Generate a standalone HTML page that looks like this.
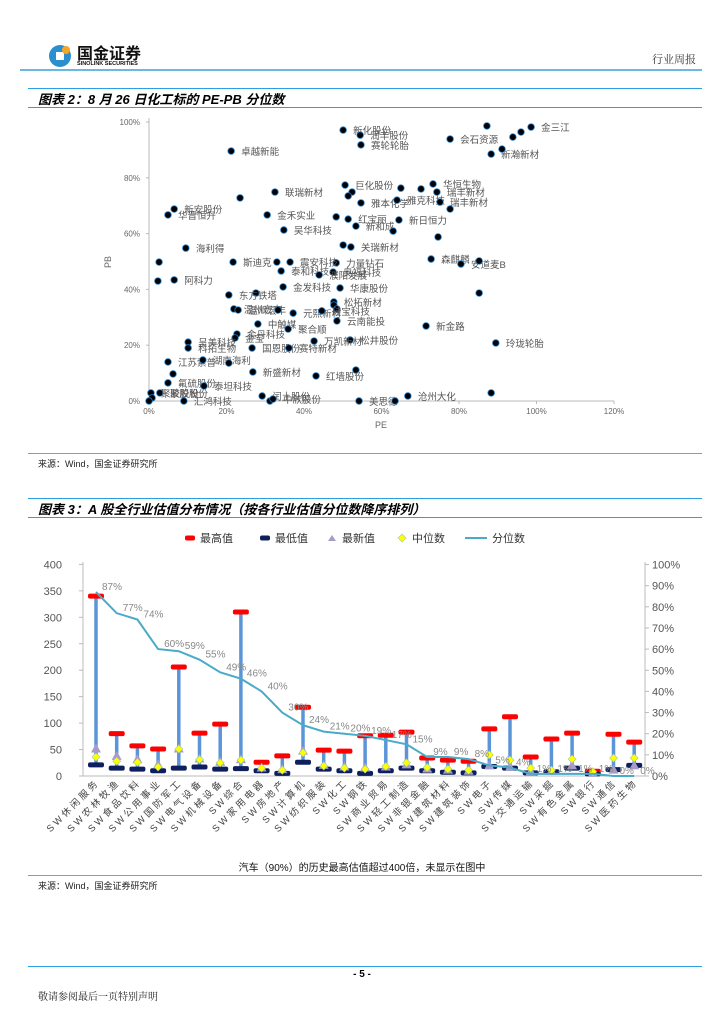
<!DOCTYPE html>
<html><head><meta charset="utf-8">
<style>
body{margin:0;background:#fff;}
#page{position:relative;width:724px;height:1024px;overflow:hidden;font-family:"Liberation Sans","Noto Sans CJK SC",sans-serif;}
.abs{position:absolute;}
.hl{position:absolute;height:1px;background:#2aa0e0;}
.cap{position:absolute;font-size:13px;font-weight:bold;font-style:italic;color:#000;}
.src{position:absolute;font-size:9px;color:#222;}
</style></head><body>
<div id="page">
  <div class="abs" style="left:48px;top:43px;width:26px;height:26px;">
    <svg width="26" height="26"><circle cx="12" cy="13" r="11" fill="#2a8fd0"/><rect x="8" y="9" width="8" height="8" fill="#fff"/><circle cx="18" cy="7" r="4" fill="#f5a623"/></svg>
  </div>
  <div class="abs" style="left:77px;top:40px;font-size:16px;font-weight:bold;color:#111;">国金证券</div>
  <div class="abs" style="left:77px;top:61px;font-size:5.5px;font-weight:bold;color:#111;">SINOLINK SECURITIES</div>
  <div class="abs" style="left:652px;top:51px;font-size:11px;color:#333;font-family:'Noto Serif CJK SC',serif;">行业周报</div>
  <div class="hl" style="left:20px;top:69px;width:682px;height:2px;background:#6ab8e6;"></div>

  <div class="hl" style="left:28px;top:88px;width:674px;"></div>
  <div class="cap" style="left:38px;top:89px;">图表 2：8 月 26 日化工标的 PE-PB 分位数</div>
  <div class="hl" style="left:28px;top:107px;width:674px;"></div>

  <svg id="sc" class="abs" style="left:0;top:0" width="724" height="450"></svg>

  <div class="hl" style="left:28px;top:453px;width:674px;background:#999;"></div>
  <div class="src" style="left:38px;top:457px;">来源：Wind，国金证券研究所</div>

  <div class="hl" style="left:28px;top:498px;width:674px;"></div>
  <div class="cap" style="left:38px;top:499px;">图表 3：A 股全行业估值分布情况（按各行业估值分位数降序排列）</div>
  <div class="hl" style="left:28px;top:517px;width:674px;"></div>

  <svg id="bc" class="abs" style="left:0;top:520px" width="724" height="340"></svg>

  <div class="abs" style="left:0;width:724px;text-align:center;top:859px;font-size:10px;color:#111;">汽车（90%）的历史最高估值超过400倍，未显示在图中</div>
  <div class="hl" style="left:28px;top:875px;width:674px;background:#999;"></div>
  <div class="src" style="left:38px;top:879px;">来源：Wind，国金证券研究所</div>

  <div class="hl" style="left:28px;top:966px;width:674px;background:#2aa0e0;"></div>
  <div class="abs" style="left:0;width:724px;text-align:center;top:969px;font-size:10px;font-weight:bold;">- 5 -</div>
  <div class="abs" style="left:38px;top:988px;font-size:10px;color:#222;font-family:'Noto Serif CJK SC',serif;">敬请参阅最后一页特别声明</div>
</div>
<script>
const NS="http://www.w3.org/2000/svg";
function mk(p,t,a){const e=document.createElementNS(NS,t);for(const k in a)e.setAttribute(k,a[k]);p.appendChild(e);return e;}

// ---- Scatter data ----
const peVals=[50.1,54.5,54.7,21.2,77.7,87.2,93.9,96.0,98.6,88.3,91.1,50.6,65.0,70.2,73.3,74.3,52.4,51.4,54.7,64.0,75.1,77.7,48.3,51.4,53.4,64.5,63.0,74.6,50.1,52.1,72.8,80.5,85.2,48.3,47.5,49.3,85.2,47.7,47.7,48.5,48.5,71.5,51.9,89.5,53.4,88.3,54.2,63.5,66.8,23.5,32.5,6.5,4.9,30.5,34.8,9.5,33.0,2.6,21.7,36.4,34.1,43.9,2.3,6.5,34.6,27.6,20.6,21.9,23.0,33.3,37.2,44.6,28.1,35.9,22.7,22.2,10.1,10.1,26.6,36.1,42.6,4.9,13.9,20.6,26.8,6.2,43.1,4.9,2.8,0.5,14.2,0.8,0,9.0,29.2,31.2,32.0];
const pbVals=[97.1,95.3,91.8,89.6,93.9,98.6,94.6,96.4,98.2,88.5,90.3,77.4,76.3,76.0,77.8,74.9,74.9,73.5,71.0,72.0,71.3,68.8,66.0,65.2,62.7,64.9,60.9,58.8,55.9,55.2,50.9,49.1,50.2,49.5,46.2,40.5,38.7,35.5,34.4,33.0,28.7,26.9,21.9,20.8,11.1,2.9,0,0,1.8,72.8,74.9,68.8,66.7,66.7,61.3,54.8,49.8,49.8,49.8,49.8,46.6,45.2,43.0,43.4,40.9,38.7,38.0,33.0,32.6,32.6,31.5,32.3,27.6,25.8,24.0,22.6,21.1,19.0,19.0,19.0,21.5,14.0,14.7,13.6,10.4,9.7,9.0,6.5,2.9,2.9,5.4,1.1,0,0,1.8,0,0.7];
const stockNames=["新化股份","润丰股份","赛轮轮胎","卓越新能","会石资源","","","","金三江","新瀚新材","","巨化股份","","","华恒生物","瑞丰新材","","","雅本化学","雅克科技","瑞丰新材","","","红宝丽","新和成","新日恒力","","","","关瑞新材","森麒麟","安道麦B","","力量钻石","奥福科技","华康股份","","松拓新材","","","云南能投","新金路","松井股份","玲珑轮胎","","","美思德","","沧州大化","","联瑞新材","新安股份","华晋恒升","金禾实业","吴华科技","海利得","","","斯迪克","震安科技","泰和科技","濮阳发展","","阿科力","金发科技","","东方铁塔","温州宏丰","温州宏丰","","元熙新材","硅宝科技","中触媒","聚合顺","金丹科技","金宝","呈美科技","科拓生物","国恩股份","赛特新材","万凯新材","江苏索普","湖南海利","","新盛新材","","红墙股份","氟硫股份","聚胶股份","聚胶股份","泰坦科技","","","汇鸿科技","闰土股份","","中欣股份"];
const xTicks=[0,20,40,60,80,100,120];
const yTicks=[0,20,40,60,80,100];

(function(){
const s=document.getElementById('sc');
const X=v=>149+v*3.875, Y=v=>401-v*2.79;
let a=mk(s,'line',{x1:149,y1:118,x2:149,y2:401,stroke:'#bbb'});

a=mk(s,'line',{x1:149,y1:401,x2:614,y2:401,stroke:'#bbb'});

yTicks.forEach(t=>{const e=mk(s,'text',{x:140,y:Y(t)+3,'text-anchor':'end','font-size':8,fill:'#666'});e.textContent=t+'%';

mk(s,'line',{x1:146,y1:Y(t),x2:149,y2:Y(t),stroke:'#bbb'});});
xTicks.forEach(t=>{const e=mk(s,'text',{x:X(t),y:414,'text-anchor':'middle','font-size':8,fill:'#666'});e.textContent=t+'%';

mk(s,'line',{x1:X(t),y1:401,x2:X(t),y2:404,stroke:'#bbb'});});
let e=mk(s,'text',{x:381,y:428,'text-anchor':'middle','font-size':9,fill:'#666'});e.textContent='PE';

e=mk(s,'text',{x:0,y:0,transform:'translate(111,262) rotate(-90)','text-anchor':'middle','font-size':9,fill:'#666'});e.textContent='PB';

peVals.forEach((v,i)=>{
 const c=mk(s,'circle',{cx:X(v),cy:Y(pbVals[i]),r:3.3,fill:'#000','stroke':'#1f7fd0','stroke-width':0.8});
 
 if(stockNames[i]){const t=mk(s,'text',{x:X(v)+10,y:Y(pbVals[i])+4,'font-size':9.5,fill:'#555'});t.textContent=stockNames[i];
 }
});
})();

// ---- Industry valuation data ----
const industries=["SW休闲服务","SW农林牧渔","SW食品饮料","SW公用事业","SW国防军工","SW电气设备","SW机械设备","SW综合","SW家用电器","SW房地产","SW计算机","SW纺织服装","SW化工","SW钢铁","SW商业贸易","SW轻工制造","SW非银金融","SW建筑材料","SW建筑装饰","SW电子","SW传媒","SW交通运输","SW采掘","SW有色金属","SW银行","SW通信","SW医药生物"];
const maxVals=[340,80,57,51,206,81,98,310,26,38,130,49,47,76,77,83,34,30,28,89,112,36,70,81,9,79,64];
const minVals=[21,15,13,10,15,17,13,14,10,5,26,13,10,5,10,15,10,7,6,18,15,6,8,15,4,12,20];
const latestVals=[52,38,32,22,52,33,27,32,16,13,48,21,18,16,18,22,14,12,10,20,17,9,10,20,6,12,20];
const medianVals=[36,28,26,17,51,31,25,30,15,11,44,19,15,13,18,25,16,13,11,40,30,15,11,32,8,34,34];
const pctVals=[87,77,74,60,59,55,49,46,40,30,24,21,20,19,17,15,9,9,8,5,4,1,1,1,1,0,0];
const leftTicks=[0,50,100,150,200,250,300,350,400];
const rightTicks=[0,10,20,30,40,50,60,70,80,90,100];

(function(){
const s=document.getElementById('bc');
const Y=v=>256-v*0.529, YP=v=>256-v*2.115, X=i=>96+i*20.7;
const lg=[['最高值',198,'max'],['最低值',273,'min'],['最新值',340,'tri'],['中位数',410,'dia'],['分位数',490,'line']];
lg.forEach(l=>{const g=mk(s,'g',{});
 const x=l[1],y=18;
 if(l[2]=='max')mk(g,'rect',{x:x-13,y:y-2.5,width:10,height:5,rx:2,fill:'#f00'});
 if(l[2]=='min')mk(g,'rect',{x:x-13,y:y-2.5,width:10,height:5,rx:2,fill:'#0d1f5c'});
 if(l[2]=='tri')mk(g,'path',{d:`M${x-12} ${y+3}L${x-8} ${y-3}L${x-4} ${y+3}Z`,fill:'#a99bc9'});
 if(l[2]=='dia')mk(g,'path',{d:`M${x-8} ${y-4}L${x-4} ${y}L${x-8} ${y+4}L${x-12} ${y}Z`,fill:'#ff0','stroke':'#9c9','stroke-width':0.6});
 if(l[2]=='line')mk(g,'line',{x1:x-25,y1:y,x2:x-3,y2:y,stroke:'#4aabc8','stroke-width':2});
 const t=mk(g,'text',{x:x+2,y:y+4,'font-size':11,fill:'#333'});t.textContent=l[0];});
mk(s,'line',{x1:83,y1:42,x2:83,y2:256,stroke:'#bbb'});
mk(s,'line',{x1:83,y1:256,x2:645,y2:256,stroke:'#bbb'});
mk(s,'line',{x1:645,y1:42,x2:645,y2:256,stroke:'#bbb'});
leftTicks.forEach(t=>{const e=mk(s,'text',{x:62,y:Y(t)+4,'text-anchor':'end','font-size':11,fill:'#555'});e.textContent=t;

mk(s,'line',{x1:79,y1:Y(t),x2:83,y2:Y(t),stroke:'#bbb'});});
rightTicks.forEach(t=>{const e=mk(s,'text',{x:652,y:YP(t)+4,'font-size':11,fill:'#555'});e.textContent=t+'%';

mk(s,'line',{x1:645,y1:YP(t),x2:649,y2:YP(t),stroke:'#bbb'});});
industries.forEach((n,i)=>{const x=X(i);
 const b=mk(s,'line',{x1:x,y1:Y(maxVals[i]),x2:x,y2:Y(minVals[i]),stroke:'#5b95d8','stroke-width':3.5});
 
 const mx=mk(s,'rect',{x:x-8,y:Y(maxVals[i])-2.5,width:16,height:5,rx:2,fill:'#f00'});
 
 const mn=mk(s,'rect',{x:x-8,y:Y(minVals[i])-2.5,width:16,height:5,rx:2,fill:'#0d1f5c'});
 
 const ly=Y(latestVals[i]);
 const tr=mk(s,'path',{d:`M${x-5} ${ly+4}L${x} ${ly-5}L${x+5} ${ly+4}Z`,fill:'#a99bc9'});
 
 const my=Y(medianVals[i]);
 const d=mk(s,'path',{d:`M${x} ${my-4}L${x+4} ${my}L${x} ${my+4}L${x-4} ${my}Z`,fill:'#ff0',stroke:'#9c9','stroke-width':0.6});
 
 const t=mk(s,'text',{x:0,y:0,transform:`translate(${x+4},${263}) rotate(-45)`,'text-anchor':'end','font-size':9.5,fill:'#444','letter-spacing':'2.8'});t.textContent=n;
 
});
const pts=pctVals.map((p,i)=>X(i)+','+YP(p)).join(' ');
const pl=mk(s,'polyline',{points:pts,fill:'none',stroke:'#4aabc8','stroke-width':2});

pctVals.forEach((p,i)=>{const t=mk(s,'text',{x:X(i)+6,y:YP(p)-2,'font-size':10,fill:'#888'});t.textContent=p+'%';
});
})();
</script>
</body></html>
